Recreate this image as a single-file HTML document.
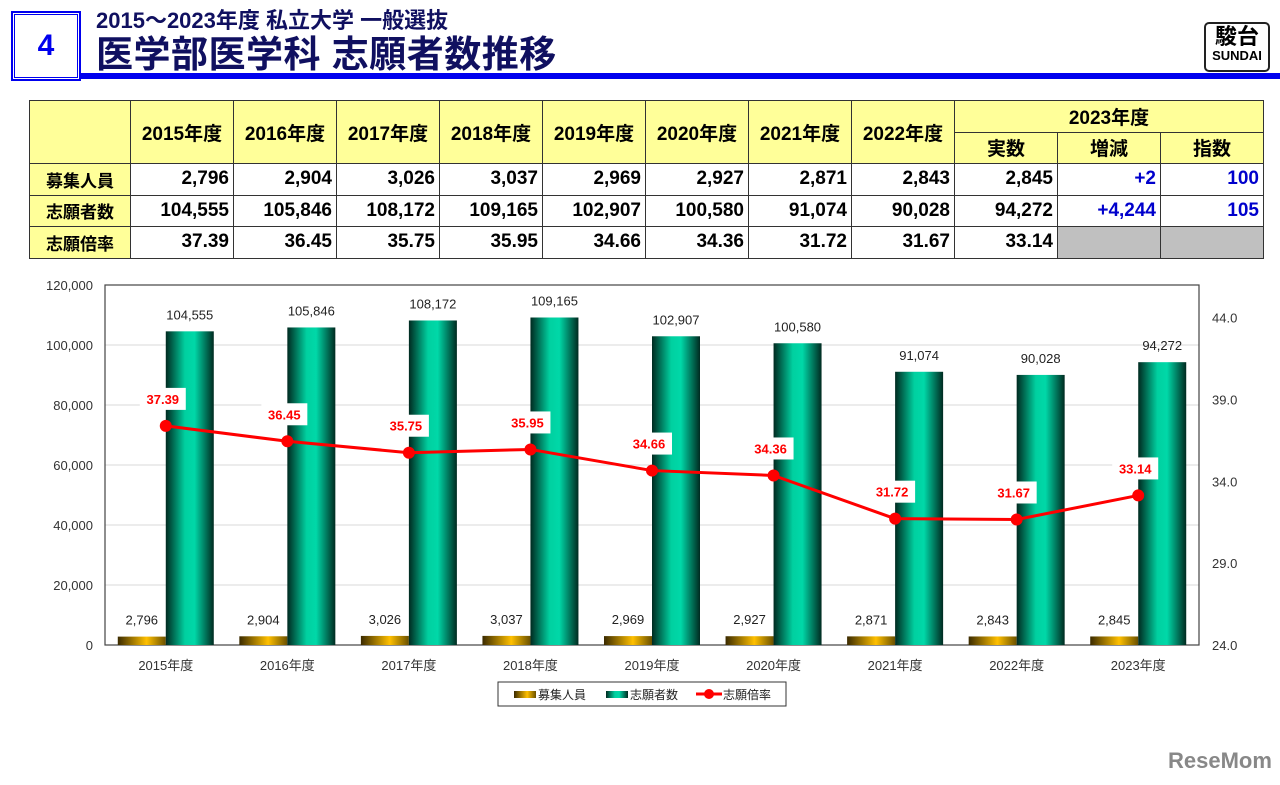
<!DOCTYPE html>
<html><head><meta charset="utf-8">
<style>
body{margin:0;width:1280px;height:785px;background:#fff;position:relative;overflow:hidden;font-family:"Liberation Sans","Noto Sans CJK JP",sans-serif;}
.abs{position:absolute}
table{border-collapse:collapse;position:absolute;left:29px;top:100px;font-weight:bold;font-size:19px;}
td{border:1.5px solid #333;height:30.5px;padding:0 4px;text-align:right;}
td.y{background:#ffff99;text-align:center}
td.l{background:#ffff99;text-align:center;font-size:17px}
td.b{color:#0000cc}
td.g{background:#c0c0c0}
</style></head><body>
<div class="abs" style="left:12px;top:12px;width:62px;height:62px;border:3px double #0000ee;outline:1px solid #0000ee;text-align:center;line-height:62px;font-size:30px;font-weight:bold;color:#0000ee">4</div>
<div class="abs" style="left:96px;top:3px;font-size:22px;font-weight:bold;color:#101060">2015～2023年度 私立大学 一般選抜</div>
<div class="abs" style="left:96px;top:24px;font-size:37px;font-weight:bold;color:#101060;letter-spacing:0.5px">医学部医学科 志願者数推移</div>
<div class="abs" style="left:80px;top:73px;width:1200px;height:6px;background:#0000ee"></div>
<div class="abs" style="left:1204px;top:22px;width:62px;height:46px;border:2px solid #222;border-radius:5px;text-align:center;font-weight:bold;line-height:1">
<div style="font-size:22px;margin-top:2px">駿台</div><div style="font-size:13px;margin-top:1px">SUNDAI</div></div>

<table>
<colgroup><col style="width:101px"><col span="11" style="width:103px"></colgroup>
<tr><td class="y" rowspan="2"></td><td class="y" rowspan="2">2015年度</td><td class="y" rowspan="2">2016年度</td><td class="y" rowspan="2">2017年度</td><td class="y" rowspan="2">2018年度</td><td class="y" rowspan="2">2019年度</td><td class="y" rowspan="2">2020年度</td><td class="y" rowspan="2">2021年度</td><td class="y" rowspan="2">2022年度</td><td class="y" colspan="3">2023年度</td></tr>
<tr><td class="y">実数</td><td class="y">増減</td><td class="y">指数</td></tr>
<tr><td class="l">募集人員</td><td>2,796</td><td>2,904</td><td>3,026</td><td>3,037</td><td>2,969</td><td>2,927</td><td>2,871</td><td>2,843</td><td>2,845</td><td class="b">+2</td><td class="b">100</td></tr>
<tr><td class="l">志願者数</td><td>104,555</td><td>105,846</td><td>108,172</td><td>109,165</td><td>102,907</td><td>100,580</td><td>91,074</td><td>90,028</td><td>94,272</td><td class="b">+4,244</td><td class="b">105</td></tr>
<tr><td class="l">志願倍率</td><td>37.39</td><td>36.45</td><td>35.75</td><td>35.95</td><td>34.66</td><td>34.36</td><td>31.72</td><td>31.67</td><td>33.14</td><td class="g"></td><td class="g"></td></tr>
</table>

<svg class="abs" style="left:0;top:0" width="1280" height="785" id="chart">
<defs>
<linearGradient id="gold" x1="0" x2="1"><stop offset="0" stop-color="#3a2a00"/><stop offset="0.6" stop-color="#ffc000"/><stop offset="1" stop-color="#6a5000"/></linearGradient>
<linearGradient id="green" x1="0" x2="1"><stop offset="0" stop-color="#002a20"/><stop offset="0.4" stop-color="#00d0a0"/><stop offset="0.6" stop-color="#00d8a8"/><stop offset="1" stop-color="#002a20"/></linearGradient>
</defs>
</svg>
<div class="abs" style="left:1168px;top:748px;font-size:22px;font-weight:bold;color:#888">ReseMom</div>
<script>
const categories=["2015年度","2016年度","2017年度","2018年度","2019年度","2020年度","2021年度","2022年度","2023年度"];
const capacity=[2796,2904,3026,3037,2969,2927,2871,2843,2845];
const applicants=[104555,105846,108172,109165,102907,100580,91074,90028,94272];
const ratio=[37.39,36.45,35.75,35.95,34.66,34.36,31.72,31.67,33.14];
const leftTicks=[0,20000,40000,60000,80000,100000,120000];
const rightTicks=[24,29,34,39,44];
const svg=document.getElementById('chart');const NS='http://www.w3.org/2000/svg';
const L=105,R=1199,T=285,B=645;
const yL=v=>B-v/120000*(B-T);
const yR=v=>B-(v-24)/22*(B-T);
const cw=(R-L)/categories.length;
const xc=i=>L+cw*(i+0.5);
function mk(tag,a,txt){const e=document.createElementNS(NS,tag);for(const k in a)e.setAttribute(k,a[k]);if(txt!=null)e.textContent=txt;svg.appendChild(e);return e;}
const fmt=v=>v.toLocaleString('en-US');
leftTicks.forEach(t=>{
 if(t>0&&t<120000){const g=mk('line',{x1:L,x2:R,y1:yL(t),y2:yL(t),stroke:'#d8d8d8','stroke-width':1});
 
 }
 const e=mk('text',{x:93,y:yL(t)+5,'text-anchor':'end','font-size':13,fill:'#333'},fmt(t));
 
 
});
rightTicks.forEach(t=>{
 const e=mk('text',{x:1212,y:yR(t)+5,'font-size':13,fill:'#333'},t.toFixed(1));
 
 
});
const frame=mk('rect',{x:L,y:T,width:R-L,height:B-T,fill:'none',stroke:'#444','stroke-width':1.2});


const bw=48;
categories.forEach((c,i)=>{
 const x=xc(i);
 const b1=mk('rect',{x:x-bw,y:yL(capacity[i]),width:bw,height:B-yL(capacity[i]),fill:'url(#gold)'});
 
 
 const b2=mk('rect',{x:x,y:yL(applicants[i]),width:bw,height:B-yL(applicants[i]),fill:'url(#green)'});
 
 
 const t1=mk('text',{x:x-bw/2,y:yL(capacity[i])-12,'text-anchor':'middle','font-size':13,fill:'#222'},fmt(capacity[i]));
 
 
 const t2=mk('text',{x:x+bw/2,y:yL(applicants[i])-12,'text-anchor':'middle','font-size':13,fill:'#222'},fmt(applicants[i]));
 
 
 const xl=mk('text',{x:x,y:670,'text-anchor':'middle','font-size':13,fill:'#333'},c);
 
 
});
const pts=ratio.map((v,i)=>xc(i)+','+yR(v)).join(' ');
const ln=mk('polyline',{points:pts,fill:'none',stroke:'#ff0000','stroke-width':3});


ratio.forEach((v,i)=>{
 const x=xc(i),y=yR(v);
 const d=mk('circle',{cx:x,cy:y,r:6,fill:'#ff0000'});
 
 
 const bg=mk('rect',{x:x-26,y:y-38,width:46,height:22,fill:'#fff'});
 
 
 const t=mk('text',{x:x-3,y:y-22,'text-anchor':'middle','font-size':13,'font-weight':'bold',fill:'#ff0000'},v.toFixed(2));
 
 
});
const lg=mk('rect',{x:498,y:682,width:288,height:24,fill:'#fff',stroke:'#333','stroke-width':1});


const s1=mk('rect',{x:514,y:691,width:22,height:7,fill:'url(#gold)'});


const l1=mk('text',{x:538,y:699,'font-size':12,fill:'#222'},'募集人員');


const s2=mk('rect',{x:606,y:691,width:22,height:7,fill:'url(#green)'});


const l2=mk('text',{x:630,y:699,'font-size':12,fill:'#222'},'志願者数');


const s3=mk('line',{x1:696,x2:722,y1:694,y2:694,stroke:'#ff0000','stroke-width':3});


const s3c=mk('circle',{cx:709,cy:694,r:5,fill:'#ff0000'});


const l3=mk('text',{x:723,y:699,'font-size':12,fill:'#222'},'志願倍率');


</script>
</body></html>
